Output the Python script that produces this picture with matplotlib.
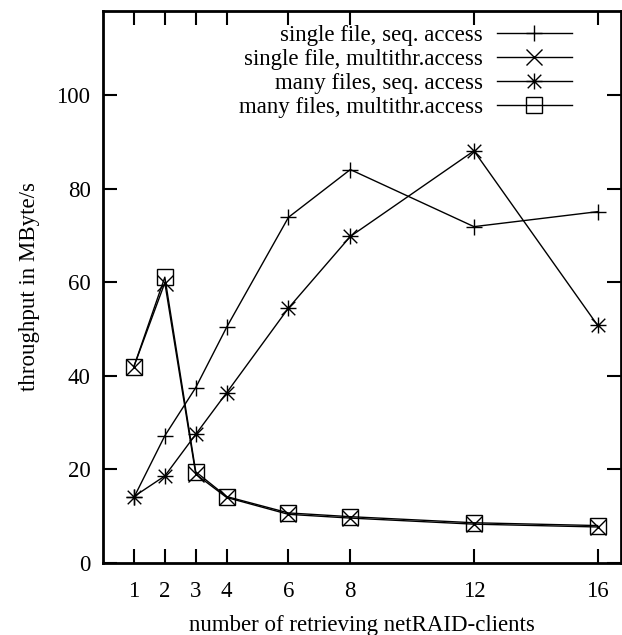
import numpy as np
import matplotlib
matplotlib.use("Agg")
import matplotlib.pyplot as plt
from matplotlib.path import Path

# number of retrieving clients
clients = [1, 2, 3, 4, 6, 8, 12, 16]

# throughput in MByte/s
single_seq = [14.0, 27.2, 37.5, 50.4, 73.9, 84.1, 71.9, 75.1]
single_mt = [42.0, 59.9, 19.0, 14.0, 10.4, 9.6, 8.3, 7.7]
many_seq = [14.2, 18.6, 27.5, 36.4, 54.5, 69.8, 88.1, 50.8]
many_mt = [42.0, 61.1, 19.5, 14.2, 10.7, 9.9, 8.6, 8.0]

labels = [
    "single file, seq. access",
    "single file, multithr.access",
    "many files, seq. access",
    "many files, multithr.access",
]

plt.rcParams["font.family"] = ["Liberation Serif", "DejaVu Serif"]
plt.rcParams["font.size"] = 16.5

# gnuplot style "*" point: a + and an x on top of each other
star_path = Path(
    [(-1, 0), (1, 0), (0, -1), (0, 1), (-0.85, -0.85), (0.85, 0.85), (-0.85, 0.85), (0.85, -0.85)],
    [Path.MOVETO, Path.LINETO] * 4,
)

fig = plt.figure(figsize=(6.22, 6.35), dpi=100)
ax = fig.add_axes([0.1656, 0.1134, 0.8325, 0.8693])

style = dict(color="black", linewidth=1.0, markersize=11.5,
             markerfacecolor="none", markeredgewidth=1.0)

ax.plot(clients, single_seq, marker="+", label=labels[0], **style)
ax.plot(clients, single_mt, marker="x", label=labels[1], **style)
ax.plot(clients, many_seq, marker=star_path, label=labels[2], **style)
ax.plot(clients, many_mt, marker="s", label=labels[3], **style)

ax.set_xlim(0, 16.75)
ax.set_ylim(0, 118)
ax.set_xticks(clients)
ax.set_yticks([0, 20, 40, 60, 80, 100])

ax.tick_params(direction="in", length=10, width=1.5, top=True, right=True,
               labeltop=False, labelright=False)
ax.tick_params(axis="x", pad=13)
ax.tick_params(axis="y", pad=9)
for sp in ax.spines.values():
    sp.set_linewidth(2.0)

ax.set_xlabel("number of retrieving netRAID-clients", labelpad=9)
ax.set_ylabel("throughput in MByte/s", labelpad=12)

ax.legend(loc="upper right", bbox_to_anchor=(0.937, 1.003), frameon=False,
          markerfirst=False, handlelength=3.3, handletextpad=0.6,
          labelspacing=0.12, borderpad=0.2)

fig.savefig("out.png", dpi=100)
